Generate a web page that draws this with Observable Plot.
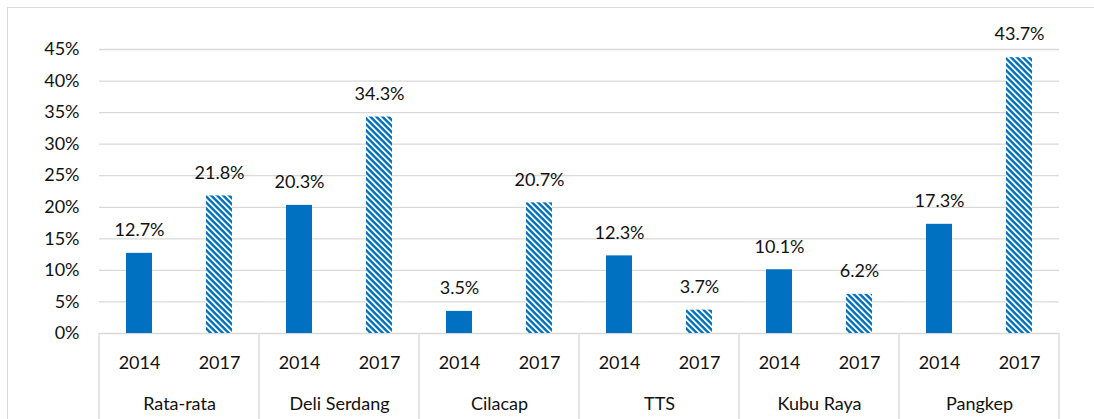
<!DOCTYPE html>
<html><head><meta charset="utf-8">
<script src="https://cdn.jsdelivr.net/npm/d3@7"></script>
<script src="https://cdn.jsdelivr.net/npm/@observablehq/plot@0.6"></script>
<style>
body{margin:0;background:#fff;}
#wrap{position:relative;width:1094px;height:419px;overflow:hidden;background:#fff;}
#chart{position:absolute;left:0;top:0;}
#border{position:absolute;left:7px;top:7px;width:1110px;height:430px;border:1.4px solid #d9d9d9;box-sizing:border-box;pointer-events:none;}
</style></head><body>
<div id="wrap"><div id="chart"></div><div id="border"></div></div>
<script>
const groups = ["Rata-rata", "Deli Serdang", "Cilacap", "TTS", "Kubu Raya", "Pangkep"];
const years = ["2014", "2017"];
const values2014 = [12.7, 20.3, 3.5, 12.3, 10.1, 17.3];
const values2017 = [21.8, 34.3, 20.7, 3.7, 6.2, 43.7];
const yTicks = [0, 5, 10, 15, 20, 25, 30, 35, 40, 45];

const data = groups.flatMap((g, i) => [
  {group: g, year: years[0], value: values2014[i]},
  {group: g, year: years[1], value: values2017[i]}
]);

const plot = Plot.plot({
  width: 1094,
  height: 419,
  marginLeft: 97,
  marginRight: 33,
  marginTop: 49,
  marginBottom: 86,
  style: {fontFamily: "Lato, sans-serif", fontSize: "18px", color: "#111", background: "transparent"},
  fx: {domain: groups, padding: 0, label: null, tickSize: 0, tickPadding: 64, axis: "bottom"},
  x: {domain: years, paddingInner: 0.676, paddingOuter: 0.338, label: null, tickSize: 0, tickPadding: 23, axis: "bottom"},
  y: {domain: [0, 45], ticks: yTicks, tickFormat: d => d + "%", label: null, tickSize: 0, tickPadding: 20},
  marks: [
    Plot.gridY(yTicks, {stroke: "#d9d9d9", strokeOpacity: 1, strokeWidth: 1.3}),
    Plot.barY(data.filter(d => d.year === years[0]), {fx: "group", x: "year", y: "value", fill: "#0070C0"}),
    Plot.barY(data.filter(d => d.year === years[1]), {fx: "group", x: "year", y: "value", fill: "url(#hatch)"}),
    Plot.text(data, {fx: "group", x: "year", y: "value", text: d => d.value.toFixed(1) + "%", dy: -23, fill: "#111"})
  ]
});

document.getElementById("chart").appendChild(plot);

const svg = d3.select(plot);
const defs = svg.insert("defs", ":first-child");
const w = 6, t = 3.4;
const pat = defs.append("pattern")
  .attr("id", "hatch")
  .attr("patternUnits", "userSpaceOnUse")
  .attr("width", w).attr("height", w);
pat.append("rect").attr("width", w).attr("height", w).attr("fill", "#fff");
pat.append("polygon")
  .attr("points", `0,0 ${t},0 ${w},${w - t} ${w},${w}`)
  .attr("fill", "#0070C0");
pat.append("polygon")
  .attr("points", `0,${w - t} ${t},${w} 0,${w}`)
  .attr("fill", "#0070C0");

// category separators below the axis, positioned from the fx scale
const fx = plot.scale("fx");
const y = plot.scale("y");
const y0 = y.apply(0);
const edges = groups.map(g => fx.apply(g)).concat([fx.apply(groups[groups.length - 1]) + fx.bandwidth]);
const sep = svg.append("g");
edges.forEach(e => {
  sep.append("line")
    .attr("x1", e).attr("x2", e)
    .attr("y1", y0).attr("y2", 419)
    .attr("stroke", "#d9d9d9").attr("stroke-width", 1.3);
});
</script>
</body></html>
